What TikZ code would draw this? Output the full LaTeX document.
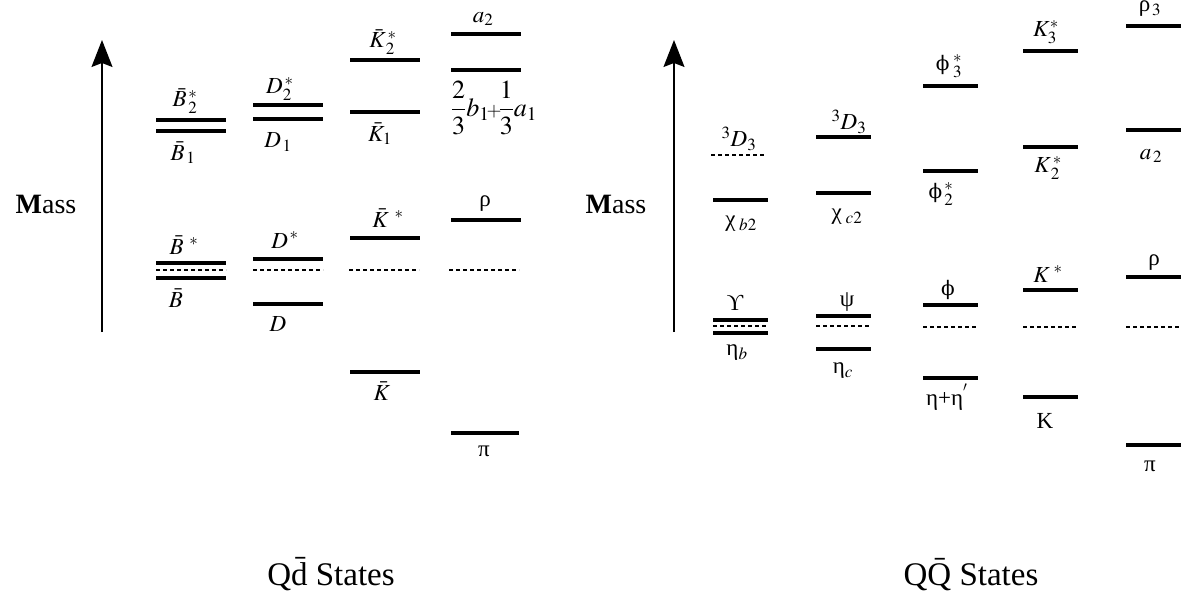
\documentclass[tikz,border=0pt]{standalone}
\usepackage{mathptmx}
\usepackage{fontspec}
\setmainfont{Liberation Serif}
\newfontfamily\phifont{DejaVu Serif}
\usetikzlibrary{arrows.meta}
\newcommand{\ph}{{\phifont\fontsize{20}{22}\selectfont ϕ}}
\begin{document}
\begin{tikzpicture}[x=1pt,y=-1pt,
  lvl/.style={line width=3.4pt},
  dlvl/.style={line width=1.6pt,dash pattern=on 4pt off 3pt},
  lab/.style={inner sep=0pt,font=\fontsize{23}{26}\selectfont},
  axis/.style={line width=1.3pt,-{Stealth[length=27pt,width=21pt,inset=4pt]}},
  masslab/.style={inner sep=0pt,font=\fontsize{28}{32}\selectfont},
  title/.style={inner sep=0pt,anchor=base,font=\fontsize{33}{38}\selectfont}]
\useasboundingbox (0,0) rectangle (1183,596);

% ---------- left panel ----------
\coordinate (a1b) at (102,332); \coordinate (a1t) at (102,40);
\draw[axis] (a1b) -- (a1t);
\node[masslab] (m1) at (46,204) {\textbf{M}ass};

% B column
\draw[lvl] (156,120) -- (226,120);
\draw[lvl] (156,131) -- (226,131);
\node[lab] (b2s) at (185,101) {$\bar{B}_{\,2}^{\,*}$};
\node[lab] (b1) at (183,153) {$\bar{B}_{\,1}$};
\draw[lvl] (156,263) -- (226,263);
\draw[dlvl] (156,270) -- (226,270);
\draw[lvl] (156,278) -- (226,278);
\node[lab] (bs) at (184,245) {$\bar{B}^{\;\,*}$};
\node[lab] (b) at (176,298) {$\bar{B}$};

% D column
\draw[lvl] (253,105) -- (323,105);
\draw[lvl] (253,119) -- (323,119);
\node[lab] (d2s) at (280,89) {$D_2^{\,*}$};
\node[lab] (d1) at (278,142) {$D_{\,1}$};
\draw[lvl] (253,259) -- (323,259);
\draw[dlvl] (253,270) -- (323,270);
\draw[lvl] (253,304) -- (323,304);
\node[lab] (ds) at (285,240) {$D^{\,*}$};
\node[lab] (d) at (278,324) {$D$};

% K column
\draw[lvl] (350,60) -- (420,60);
\draw[lvl] (350,112) -- (420,112);
\node[lab] (k2s) at (383,42) {$\bar{K}_{\,2}^{\,*}$};
\node[lab] (k1) at (380,134) {$\bar{K}_1$};
\draw[lvl] (350,238) -- (420,238);
\draw[dlvl] (349,270) -- (419,270);
\draw[lvl] (350,372) -- (420,372);
\node[lab] (ks) at (388,218) {$\bar{K}^{\;\,*}$};
\node[lab] (k) at (382,391) {$\bar{K}$};

% a column
\draw[lvl] (451,34) -- (521,34);
\draw[lvl] (451,70) -- (521,70);
\node[lab] (a2) at (483,19) {$a_2$};
\node[lab,font=\fontsize{26}{29}\selectfont] (frac) at (494,108) {$\displaystyle\frac{2}{3}b_1\!{\scriptstyle +}\!\frac{1}{3}a_1$};
\draw[lvl] (451,220) -- (521,220);
\draw[dlvl] (449,270) -- (519,270);
\draw[lvl] (451,433) -- (519,433);
\node[lab] (rho) at (485,204) {ρ};
\node[lab] (pi) at (484,451) {π};

\node[title] (t1) at (331,585) {Q\=d States};

% ---------- right panel ----------
\coordinate (a2b) at (674,332); \coordinate (a2t) at (674,40);
\draw[axis] (a2b) -- (a2t);
\node[masslab] (m2) at (616,204) {\textbf{M}ass};

% b-bbar column
\draw[dlvl] (711,155) -- (766,155);
\draw[lvl] (713,200) -- (768,200);
\node[lab] (d3b) at (739,139) {$^3D_3$};
\node[lab] (chib) at (741,224) {χ$_{\;b2}$};
\draw[lvl] (713,320) -- (768,320);
\draw[dlvl] (713,326) -- (768,326);
\draw[lvl] (713,333) -- (768,333);
\node[lab] (ups) at (735,303) {ϒ};
\node[lab] (etab) at (737,353) {η$_b$};

% c-cbar column
\draw[lvl] (816,137) -- (871,137);
\draw[lvl] (816,193) -- (871,193);
\node[lab] (d3c) at (849,122) {$^3D_3$};
\node[lab] (chic) at (847,217) {χ$_{\;c2}$};
\draw[lvl] (816,316) -- (871,316);
\draw[dlvl] (816,326) -- (871,326);
\draw[lvl] (816,349) -- (871,349);
\node[lab] (psi) at (847,302) {ψ};
\node[lab] (etac) at (843,371) {η$_c$};

% s-sbar column
\draw[lvl] (923,86) -- (978,86);
\draw[lvl] (923,171) -- (978,171);
\node[lab] (phi3) at (949,66) {\ph${}^{\;*}_{\;3}$};
\node[lab] (phi2) at (941,194) {\ph${}^{\,*}_{\,2}$};
\draw[lvl] (923,305) -- (978,305);
\draw[dlvl] (923,327) -- (978,327);
\draw[lvl] (923,378) -- (978,378);
\node[lab] (phi) at (948,290) {\ph};
\node[lab] (eta) at (947,397) {η+η$^{'}$};

% K column
\draw[lvl] (1023,51) -- (1078,51);
\draw[lvl] (1023,147) -- (1078,147);
\node[lab] (k3s) at (1046,32) {$K_3^{*}$};
\node[lab] (k2sr) at (1048,168) {$K_{\,2}^{\,*}$};
\draw[lvl] (1023,290) -- (1078,290);
\draw[dlvl] (1023,327) -- (1078,327);
\draw[lvl] (1023,397) -- (1078,397);
\node[lab] (ksr) at (1048,274) {$K^{\;*}$};
\node[lab] (kr) at (1045,421) {K};

% light column
\draw[lvl] (1126,26) -- (1181,26);
\draw[lvl] (1126,130) -- (1181,130);
\node[lab] (rho3) at (1150,9) {ρ$_{\,3}$};
\node[lab] (a2r) at (1151,156) {$a_{\,2}$};
\draw[lvl] (1126,277) -- (1181,277);
\draw[dlvl] (1126,327) -- (1181,327);
\draw[lvl] (1126,445) -- (1181,445);
\node[lab] (rhor) at (1154,263) {ρ};
\node[lab] (pir) at (1150,466) {π};

\node[title] (t2) at (971,585) {Q\=Q States};
\end{tikzpicture}
\end{document}
